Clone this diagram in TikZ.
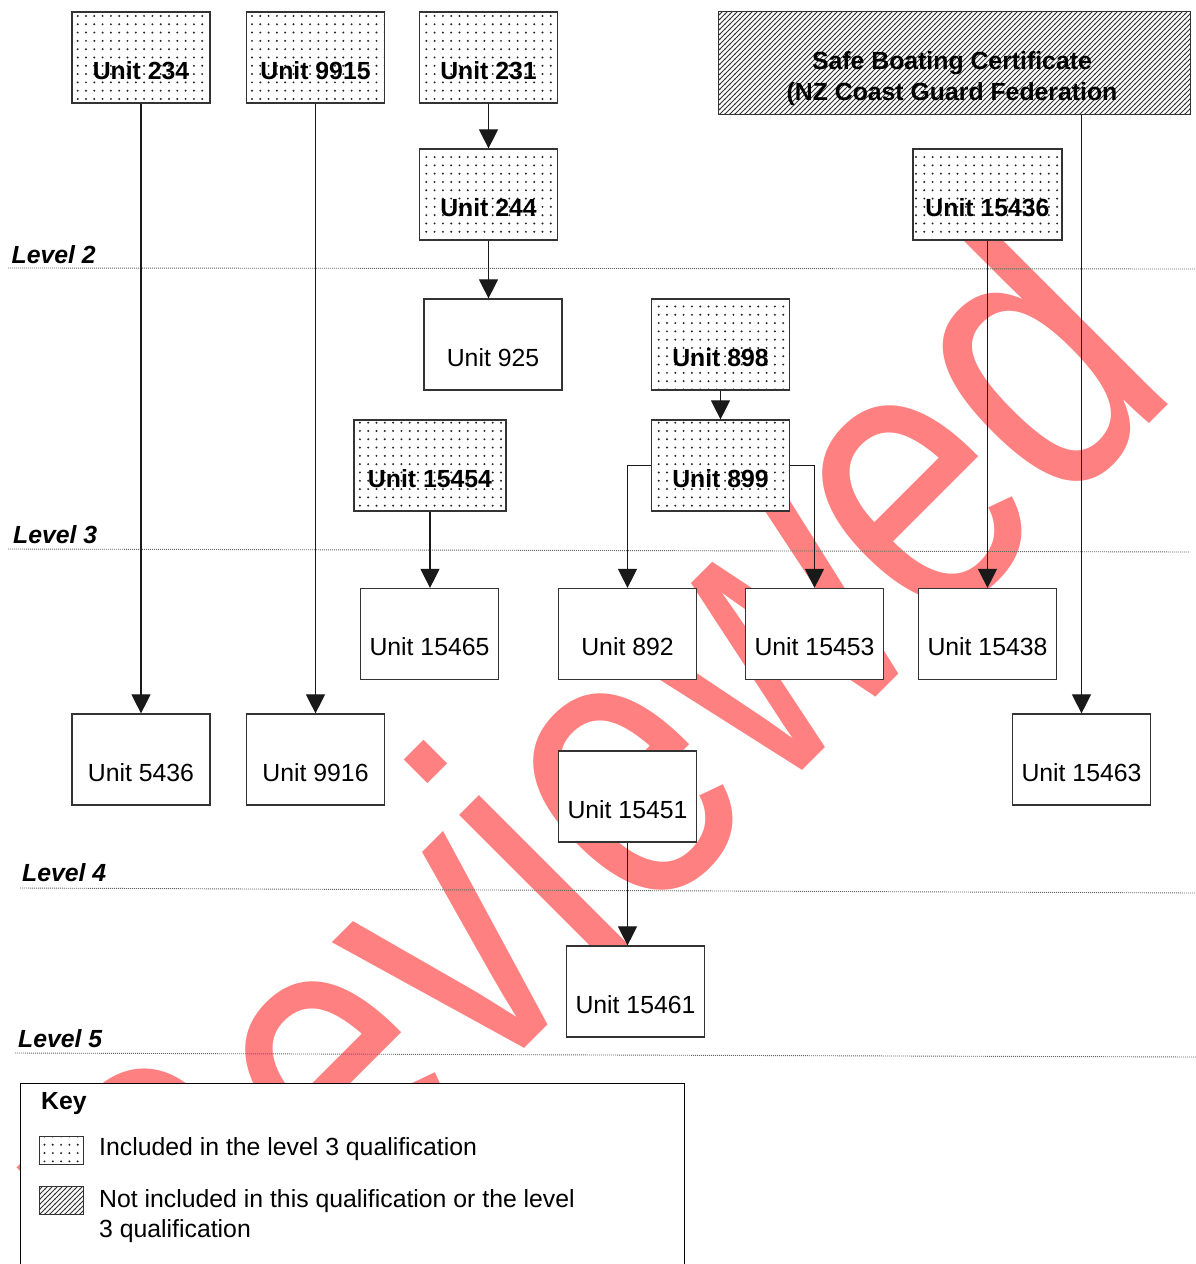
\documentclass[tikz,border=0pt]{standalone}
\usepackage{fontspec}
\setmainfont{Liberation Sans}
\usetikzlibrary{arrows.meta,patterns}
\pgfdeclarepatternformonly{sparsedots}{\pgfqpoint{-1pt}{-1pt}}{\pgfqpoint{9.3pt}{9.3pt}}{\pgfqpoint{8.3pt}{8.3pt}}{%
  \pgfpathcircle{\pgfqpoint{3pt}{3pt}}{1.1pt}%
  \pgfusepath{fill}%
}
\pgfdeclarepatternformonly{densehatch}{\pgfqpoint{-1pt}{-1pt}}{\pgfqpoint{6pt}{6pt}}{\pgfqpoint{5pt}{5pt}}{%
  \pgfsetlinewidth{1pt}%
  \pgfpathmoveto{\pgfqpoint{-0.5pt}{-0.5pt}}%
  \pgfpathlineto{\pgfqpoint{5.5pt}{5.5pt}}%
  \pgfusepath{stroke}%
}
\tikzset{
  basebox/.style={draw=black!80, line width=1.2pt, inner sep=0pt, minimum width=138pt, minimum height=91pt, text height=43pt, text depth=0pt},
  plainbox/.style={basebox, fill=white, font=\fontsize{24.8}{28}\selectfont},
  inclbox/.style={basebox, preaction={fill=white}, pattern=sparsedots, pattern color=black!85, font=\bfseries\fontsize{24.8}{28}\selectfont},
  exclbox/.style={draw=black!80, line width=1.2pt, inner sep=0pt, preaction={fill=white}, pattern=densehatch, pattern color=black!80},
  conn/.style={draw=black!90, line width=1.1pt, -{Triangle[width=19pt,length=19pt]}},
  levelline/.style={draw=black!60, line width=0.9pt, dash pattern=on 1pt off 1pt},
  levellabel/.style={anchor=base west, inner sep=0pt, font=\bfseries\itshape\fontsize{24.8}{28}\selectfont},
  keytext/.style={anchor=base west, inner sep=0pt, font=\fontsize{24.8}{28}\selectfont},
  boldtext/.style={anchor=base, inner sep=0pt, font=\bfseries\fontsize{24.8}{28}\selectfont},
  wmark/.style={text=red!50, inner sep=0pt, font=\fontsize{399}{399}\selectfont},
  swatchdots/.style={draw=black!80, line width=1pt, inner sep=0pt, minimum width=44pt, minimum height=28pt, preaction={fill=white}, pattern=sparsedots, pattern color=black!85},
  swatchhatch/.style={draw=black!80, line width=1pt, inner sep=0pt, minimum width=44pt, minimum height=28pt, preaction={fill=white}, pattern=densehatch, pattern color=black!80},
}
\begin{document}
\begin{tikzpicture}[x=1pt,y=-1pt]
\useasboundingbox (0,0) rectangle (1196,1264);
\clip (0,0) rectangle (1196,1264);
\fill[white] (0,0) rectangle (1196,1264);

% watermark
\node[wmark, rotate=45, anchor=base west] (watermark) at (192,1381) {\scalebox{0.8}[1]{Reviewed}};

% level lines and labels
\draw[levelline] (8,268) -- (1196,269);
\draw[levelline] (8,549) -- (1190,552);
\draw[levelline] (20,888) -- (1196,893);
\draw[levelline] (15,1053) -- (1196,1057);
\node[levellabel] (lev2) at (11.5,263.3) {Level 2};
\node[levellabel] (lev3) at (13,543) {Level 3};
\node[levellabel] (lev4) at (22,881) {Level 4};
\node[levellabel] (lev5) at (18,1047) {Level 5};

% boxes
\node[inclbox] (u234) at (141,57.5) {Unit 234};
\node[inclbox] (u9915) at (315.5,57.5) {Unit 9915};
\node[inclbox] (u231) at (488.5,57.5) {Unit 231};
\node[inclbox] (u244) at (488.5,194.5) {Unit 244};
\node[exclbox, minimum width=472pt, minimum height=103pt] (sbc) at (954.5,63.3) {};
\node[boldtext] (sbct1) at (952,69.5) {Safe Boating Certificate};
\node[boldtext] (sbct2) at (952,100.7) {(NZ Coast Guard Federation};
\node[inclbox, minimum width=149pt] (u15436) at (987.5,194.5) {Unit 15436};
\node[plainbox] (u925) at (493,344.5) {Unit 925};
\node[inclbox] (u898) at (720.5,344.5) {Unit 898};
\node[inclbox, minimum width=152pt] (u15454) at (430,465.5) {Unit 15454};
\node[inclbox] (u899) at (720.5,465.5) {Unit 899};
\node[plainbox] (u15465) at (429.5,634) {Unit 15465};
\node[plainbox] (u892) at (627.5,634) {Unit 892};
\node[plainbox] (u15453) at (814.5,634) {Unit 15453};
\node[plainbox] (u15438) at (987.5,634) {Unit 15438};
\node[plainbox] (u5436) at (141,759.5) {Unit 5436};
\node[plainbox] (u9916) at (315.5,759.5) {Unit 9916};
\node[plainbox] (u15463) at (1081.5,759.5) {Unit 15463};
\node[plainbox] (u15451) at (627.5,796.5) {Unit 15451};
\node[plainbox] (u15461) at (635.5,991.5) {Unit 15461};

% connectors
\draw[conn] (u234.south) -- (u5436.north);
\draw[conn] (u9915.south) -- (u9916.north);
\draw[conn] (u231.south) -- (u244.north);
\draw[conn] (u244.south) -- (u244.south |- u925.north);
\draw[conn] (u898.south) -- (u899.north);
\draw[conn] (u15454.south) -- (u15454.south |- u15465.north);
\draw[conn] (u899.west) -| (u892.north);
\draw[conn] (u899.east) -| (u15453.north);
\draw[conn] (u15436.south) -- (u15438.north);
\draw[conn] (sbc.south -| u15463.north) -- (u15463.north);
\draw[conn] (u15451.south) -- (u15451.south |- u15461.north);

% key
\node[draw=black, line width=1.2pt, fill=white, anchor=north west, minimum width=664pt, minimum height=200pt, inner sep=0pt] (keybox) at (20,1083) {};
\node[anchor=base west, inner sep=0pt, font=\bfseries\fontsize{24.8}{28}\selectfont] (keytitle) at (41,1109) {Key};
\node[swatchdots] (sw1) at (61,1150) {};
\node[swatchhatch] (sw2) at (61,1200) {};
\node[keytext] (k1) at (99,1155) {Included in the level 3 qualification};
\node[keytext] (k2) at (99,1207) {Not included in this qualification or the level};
\node[keytext] (k3) at (99,1237) {3 qualification};
\end{tikzpicture}
\end{document}
